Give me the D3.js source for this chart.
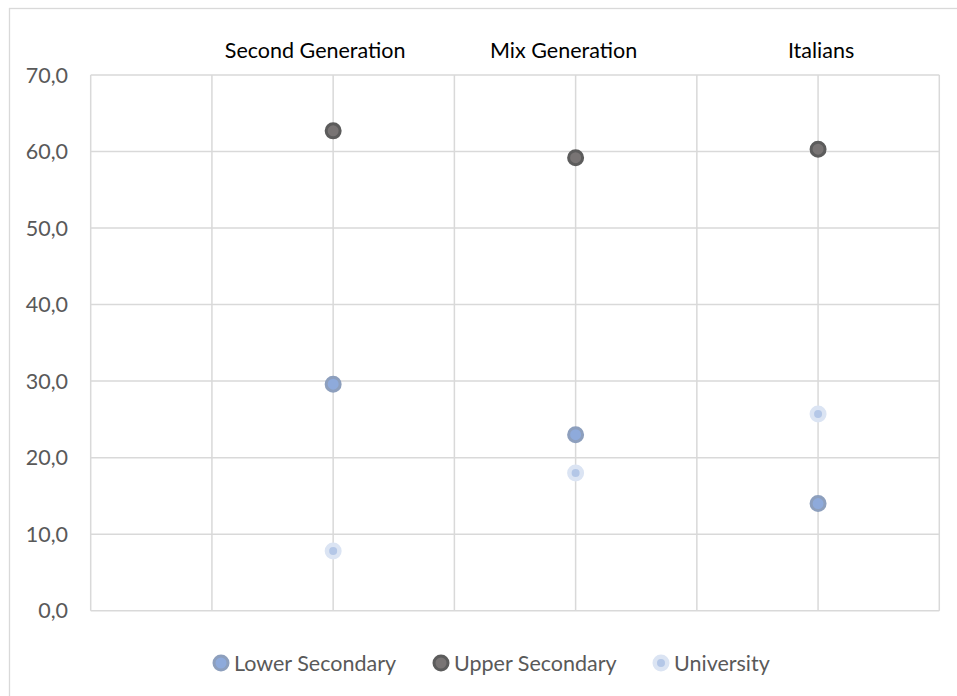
<!DOCTYPE html>
<html>
<head>
<meta charset="utf-8">
<script src="https://cdn.jsdelivr.net/npm/d3@7"></script>
<style>
  html, body { margin: 0; padding: 0; background: #fff; }
  svg { display: block; font-family: Lato, "Open Sans", sans-serif; }
</style>
</head>
<body>
<svg id="chart" width="957" height="696"></svg>
<script>
// Groups and their horizontal positions on the 0–7 grid
const groups = ["Second Generation", "Mix Generation", "Italians"];
const groupX = [2, 4, 6];

// Share (%) per education level in each group
const lowerSecondary = [29.6, 23.0, 14.0];
const upperSecondary = [62.7, 59.2, 60.3];
const university     = [7.8, 18.0, 25.7];

const yTicks = [0, 10, 20, 30, 40, 50, 60, 70];
const xTicks = [0, 1, 2, 3, 4, 5, 6, 7];

const series = [
  { name: "Lower Secondary", values: lowerSecondary, fill: "#8eaadb", stroke: "#8d9fbd", r: 7,    sw: 3 },
  { name: "Upper Secondary", values: upperSecondary, fill: "#787474", stroke: "#5c5c5c", r: 7,    sw: 3 },
  { name: "University",      values: university,     fill: "#b4c7e7", stroke: "#dbe4f3", r: 6.25, sw: 4.5 }
];

const svg = d3.select("#chart");
const plot = { left: 90.7, right: 939.3, top: 75, bottom: 610.7 };
const fontSize = 21.5;

const x = d3.scaleLinear().domain([0, 7]).range([plot.left, plot.right]);
const y = d3.scaleLinear().domain([0, 70]).range([plot.bottom, plot.top]);

// Outer chart frame
svg.append("rect")
  .attr("x", 9.5).attr("y", 8.5)
  .attr("width", 960).attr("height", 700)
  .attr("fill", "#fff").attr("stroke", "#d9d9d9").attr("stroke-width", 1.3);

// Horizontal gridlines
svg.append("g")
  .selectAll("line").data(yTicks).join("line")
  .attr("x1", plot.left).attr("x2", plot.right)
  .attr("y1", d => y(d)).attr("y2", d => y(d))
  .attr("stroke", "#d9d9d9").attr("stroke-width", 1.5);

// Vertical gridlines
svg.append("g")
  .selectAll("line").data(xTicks).join("line")
  .attr("y1", plot.top).attr("y2", plot.bottom)
  .attr("x1", d => x(d)).attr("x2", d => x(d))
  .attr("stroke", "#d9d9d9").attr("stroke-width", 1.5);

// Y axis labels with decimal comma
const fmt = d3.format(".1f");
svg.append("g")
  .selectAll("text").data(yTicks).join("text")
  .attr("x", 68).attr("y", d => y(d))
  .attr("dy", "0.36em")
  .attr("text-anchor", "end")
  .attr("font-size", fontSize)
  .attr("fill", "#595959")
  .text(d => fmt(d).replace(".", ","));

// Group titles above the plot
const titleShift = [-18, -12, 3];
svg.append("g")
  .selectAll("text").data(groups).join("text")
  .attr("x", (d, i) => x(groupX[i]) + titleShift[i])
  .attr("y", 58)
  .attr("text-anchor", "middle")
  .attr("font-size", fontSize)
  .attr("fill", "#000")
  .text(d => d);

// Markers
series.forEach(s => {
  svg.append("g")
    .selectAll("circle").data(s.values).join("circle")
    .attr("cx", (d, i) => x(groupX[i]))
    .attr("cy", d => y(d))
    .attr("r", s.r)
    .attr("fill", s.fill)
    .attr("stroke", s.stroke)
    .attr("stroke-width", s.sw);
});

// Legend
const legendX = [221, 441, 661];
const legend = svg.append("g")
  .selectAll("g").data(series).join("g")
  .attr("transform", (d, i) => `translate(${legendX[i]},663)`);
legend.append("circle")
  .attr("r", d => d.r)
  .attr("fill", d => d.fill)
  .attr("stroke", d => d.stroke)
  .attr("stroke-width", d => d.sw);
legend.append("text")
  .attr("x", 13).attr("dy", "0.36em")
  .attr("font-size", fontSize)
  .attr("fill", "#595959")
  .text(d => d.name);
</script>
</body>
</html>
